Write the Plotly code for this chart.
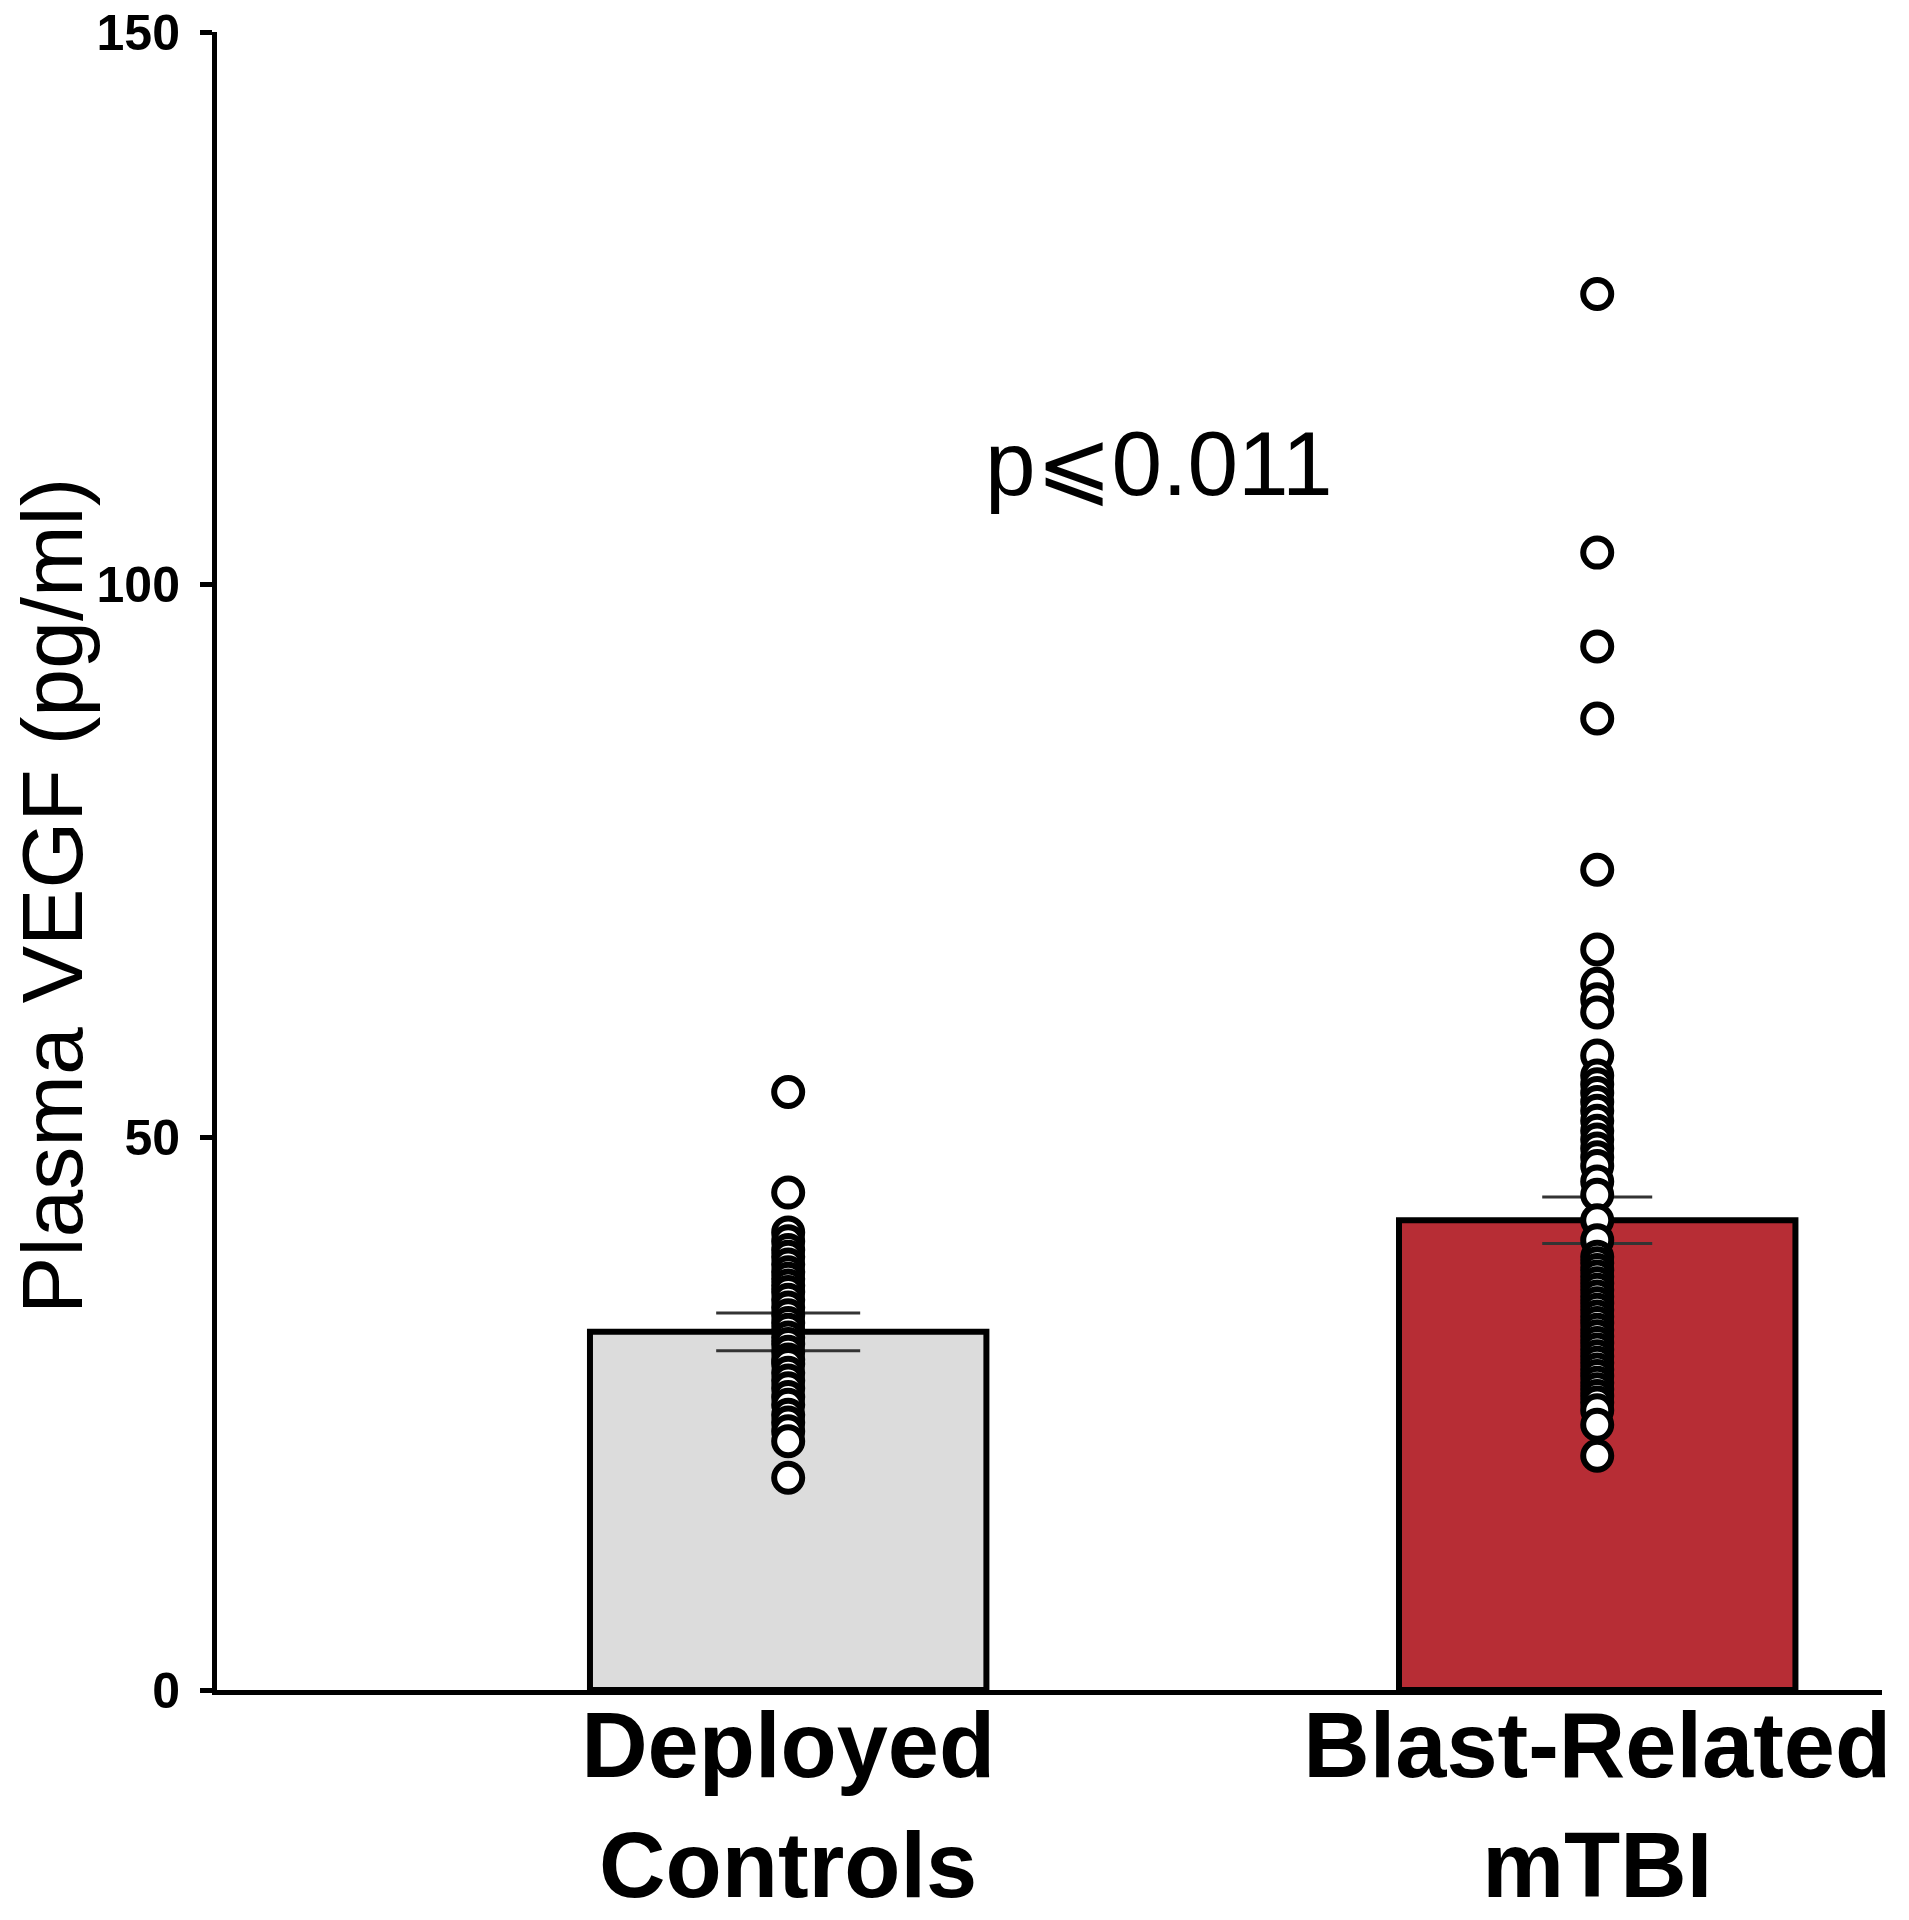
import plotly.graph_objects as go

# group labels and summary values (mean +/- SEM)
groups = ["Deployed<br>Controls", "Blast-Related<br>mTBI"]
group_pos = [0, 1]
means = [32.4, 42.5]
sems = [1.7, 2.1]

# individual subject values
controls = [54.1, 45.0, 41.4, 40.6, 39.8, 39.2, 38.5, 37.8, 37.2, 36.6, 36.0,
            35.3, 34.6, 33.9, 33.2, 32.6, 31.9, 31.3, 30.6, 29.9, 29.5, 28.7,
            28.0, 27.3, 26.5, 25.8, 24.9, 24.2, 23.4, 22.5, 19.2]
mtbi = [126.3, 102.9, 94.4, 87.9, 74.2, 67.0, 63.9, 62.5, 61.3, 57.4, 55.6,
        54.8, 54.0, 53.2, 52.4, 51.5, 50.6, 49.8, 49.0, 48.2, 47.4, 46.0,
        44.8, 42.5, 40.7, 39.2, 38.6, 38.0, 37.4, 36.8, 36.2, 35.6, 35.0,
        34.4, 33.8, 33.2, 32.6, 32.0, 31.4, 30.8, 30.2, 29.6, 29.0, 28.4,
        27.8, 27.2, 26.6, 26.0, 25.3, 24.0, 21.2]

bar_colors = ["#dcdcdc", "#b72d35"]
cap_widths = [72, 55]
y_ticks = [0, 50, 100, 150]

fig = go.Figure()
fig.add_trace(go.Bar(
    x=group_pos, y=means, width=0.49,
    marker=dict(color=bar_colors, line=dict(color="black", width=6)),
    showlegend=False,
))
for i in range(2):
    fig.add_trace(go.Scatter(
        x=[group_pos[i]], y=[means[i]], mode="markers",
        marker=dict(size=1, opacity=0),
        error_y=dict(type="data", array=[sems[i]], color="#333333",
                     thickness=3, width=cap_widths[i]),
        showlegend=False,
    ))
for pos, vals in zip(group_pos, [controls, mtbi]):
    fig.add_trace(go.Scatter(
        x=[pos] * len(vals), y=vals, mode="markers",
        marker=dict(size=28, color="white", line=dict(color="black", width=6)),
        showlegend=False,
    ))

fig.add_annotation(
    x=0.458, y=111.0, text="p⩽0.011", showarrow=False,
    font=dict(family="Liberation Sans, Arial", size=91, color="black"),
)
fig.add_annotation(
    xref="paper", yref="paper", x=-0.099, y=0.479, textangle=-90,
    xanchor="center", yanchor="middle",
    text="Plasma VEGF (pg/ml)", showarrow=False,
    font=dict(family="Liberation Sans, Arial", size=86, color="black"),
)

fig.update_xaxes(
    range=[-0.706, 1.352], tickvals=group_pos,
    ticktext=[f"<b>{t.replace('<br>', '</b><br><b>')}</b>" for t in groups],
    showline=True, linewidth=5, linecolor="black", ticks="",
    ticklabelstandoff=-28, ticklabeloverflow="allow",
    showgrid=False, zeroline=False, automargin=False,
    tickfont=dict(family="Liberation Sans, Arial", size=92, color="black"),
)
fig.update_yaxes(
    range=[0, 150], tickvals=y_ticks, ticktext=[f"<b>{v}</b>" for v in y_ticks],
    showline=True, linewidth=5, linecolor="black",
    ticks="outside", ticklen=12, tickwidth=5, tickcolor="black",
    ticklabelstandoff=10, ticklabeloverflow="allow",
    showgrid=False, zeroline=False, automargin=False,
    tickfont=dict(family="Liberation Sans, Arial", size=50, color="black"),
)
# the page body adds an 8px offset, so margins are trimmed to compensate
fig.update_layout(
    width=1909, height=1920,
    template="plotly_white",
    plot_bgcolor="white", paper_bgcolor="white",
    margin=dict(l=209, r=35, t=24, b=238),
    font=dict(family="Liberation Sans, Arial"),
)

fig.write_html("out.html")
